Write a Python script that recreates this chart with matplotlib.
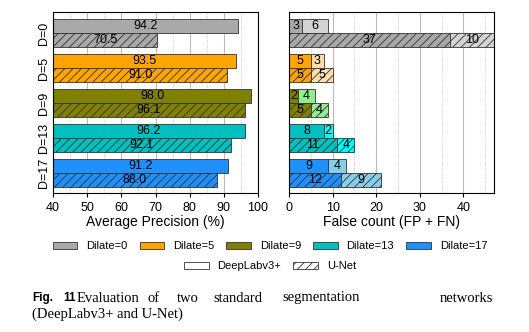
import numpy as np
import matplotlib.pyplot as plt
from matplotlib.patches import Patch

plt.rcParams['font.family'] = ['Liberation Sans', 'DejaVu Sans']

# data
dilate = ['D=0', 'D=5', 'D=9', 'D=13', 'D=17']
ap_deeplab = [94.2, 93.5, 98.0, 96.2, 91.2]
ap_unet = [70.5, 91.0, 96.1, 92.1, 88.0]
fp_deeplab = [3, 5, 2, 8, 9]
fn_deeplab = [6, 3, 4, 2, 4]
fp_unet = [37, 5, 5, 11, 12]
fn_unet = [10, 5, 4, 4, 9]
colors_dark = ['darkgray', 'orange', 'olive', 'c', 'dodgerblue']
colors_light = ['lightgray', 'navajowhite', 'lightgreen', 'cyan', 'skyblue']

fig = plt.figure(figsize=(5.29, 3.32), dpi=100)
W, H = 529, 332
ax1 = fig.add_axes([53 / W, 1 - 193 / H, 205 / W, 181 / H])
ax2 = fig.add_axes([289 / W, 1 - 193 / H, 205 / W, 181 / H])

y = np.arange(len(dilate))
h = 0.4
ec = '#333333'
plt.rcParams['hatch.linewidth'] = 0.6

# left: average precision
for i in range(len(dilate)):
    ax1.barh(y[i] - h / 2, ap_deeplab[i], height=h, color=colors_dark[i],
             edgecolor=ec, linewidth=0.6)
    ax1.barh(y[i] + h / 2, ap_unet[i], height=h, color=colors_dark[i],
             edgecolor=ec, linewidth=0.6, hatch='////')
    ax1.text((40 + ap_deeplab[i]) / 2, y[i] - h / 2, f'{ap_deeplab[i]:.1f}',
             ha='center', va='center', fontsize=9)
    ax1.text((40 + ap_unet[i]) / 2, y[i] + h / 2, f'{ap_unet[i]:.1f}',
             ha='center', va='center', fontsize=9)
ax1.set_xlim(40, 100)
ax1.set_ylim(4.57, -0.6)
ax1.set_yticks(y)
ax1.set_yticklabels(dilate, rotation=90, va='center', fontsize=9)
ax1.set_xticks(np.arange(40, 101, 10))
ax1.set_xticks(np.arange(45, 100, 10), minor=True)
ax1.tick_params(axis='x', labelsize=9, length=3)
ax1.tick_params(axis='x', which='minor', length=0)
ax1.tick_params(axis='y', length=0, pad=2)
ax1.grid(axis='x', which='major', color='#bbbbbb', linewidth=0.8)
ax1.grid(axis='x', which='minor', color='#bbbbbb', linewidth=0.6, linestyle=':')
ax1.set_axisbelow(True)
ax1.set_xlabel('Average Precision (%)', fontsize=10, labelpad=1)

# right: false counts, stacked FP + FN
for i in range(len(dilate)):
    ax2.barh(y[i] - h / 2, fp_deeplab[i], height=h, color=colors_dark[i],
             edgecolor=ec, linewidth=0.6)
    ax2.barh(y[i] - h / 2, fn_deeplab[i], height=h, left=fp_deeplab[i],
             color=colors_light[i], edgecolor=ec, linewidth=0.6)
    ax2.barh(y[i] + h / 2, fp_unet[i], height=h, color=colors_dark[i],
             edgecolor=ec, linewidth=0.6, hatch='////')
    ax2.barh(y[i] + h / 2, fn_unet[i], height=h, left=fp_unet[i],
             color=colors_light[i], edgecolor=ec, linewidth=0.6, hatch='////')
    ax2.text(fp_deeplab[i] / 2, y[i] - h / 2, str(fp_deeplab[i]), ha='center', va='center', fontsize=9)
    ax2.text(fp_deeplab[i] + fn_deeplab[i] / 2, y[i] - h / 2, str(fn_deeplab[i]),
             ha='center', va='center', fontsize=9)
    ax2.text(fp_unet[i] / 2, y[i] + h / 2, str(fp_unet[i]), ha='center', va='center', fontsize=9)
    ax2.text(fp_unet[i] + fn_unet[i] / 2, y[i] + h / 2, str(fn_unet[i]),
             ha='center', va='center', fontsize=9)
ax2.set_xlim(0, 47)
ax2.set_ylim(4.57, -0.6)
ax2.set_yticks([])
ax2.set_xticks(np.arange(0, 41, 10))
ax2.set_xticks(np.arange(5, 47, 10), minor=True)
ax2.tick_params(axis='x', labelsize=9, length=3)
ax2.tick_params(axis='x', which='minor', length=0)
ax2.grid(axis='x', which='major', color='#bbbbbb', linewidth=0.8)
ax2.grid(axis='x', which='minor', color='#bbbbbb', linewidth=0.6, linestyle=':')
ax2.set_axisbelow(True)
ax2.set_xlabel('False count (FP + FN)', fontsize=10, labelpad=1)

for ax in (ax1, ax2):
    for s in ax.spines.values():
        s.set_linewidth(0.8)

# legends
leg_kw = dict(frameon=False, fontsize=8, handlelength=2.2, handleheight=0.6,
              columnspacing=1.1, handletextpad=0.8, loc='center', borderpad=0)
h1 = [Patch(facecolor=c, edgecolor=ec, linewidth=0.6) for c in colors_dark]
l1 = ['Dilate=0', 'Dilate=5', 'Dilate=9', 'Dilate=13', 'Dilate=17']
fig.legend(h1, l1, ncol=5, bbox_to_anchor=(270 / W, 1 - 246 / H), **leg_kw)
h2 = [Patch(facecolor='white', edgecolor=ec, linewidth=0.6),
      Patch(facecolor='white', edgecolor=ec, linewidth=0.6, hatch='////')]
fig.legend(h2, ['DeepLabv3+', 'U-Net'], ncol=2,
           bbox_to_anchor=(270 / W, 1 - 266 / H), **leg_kw)

# caption
serif = ['Liberation Serif', 'DejaVu Serif']
y1 = 1 - 298 / H
fig.text(32 / W, y1, 'Fig.', fontsize=8.5, fontweight='bold', va='center')
fig.text(63 / W, y1, '11', fontsize=8.5, fontweight='bold', va='center')
words = ['Evaluation', 'of', 'two', 'standard', 'segmentation', 'networks']
xs = [77, 148, 177, 213, 282, 440]
for wd, xx in zip(words, xs):
    fig.text(xx / W, y1, wd, fontsize=10.5, family=serif, va='center')
fig.text(32 / W, 1 - 314 / H, '(DeepLabv3+ and U-Net)', fontsize=10.5, family=serif, va='center')

fig.savefig('out.png', dpi=100)
